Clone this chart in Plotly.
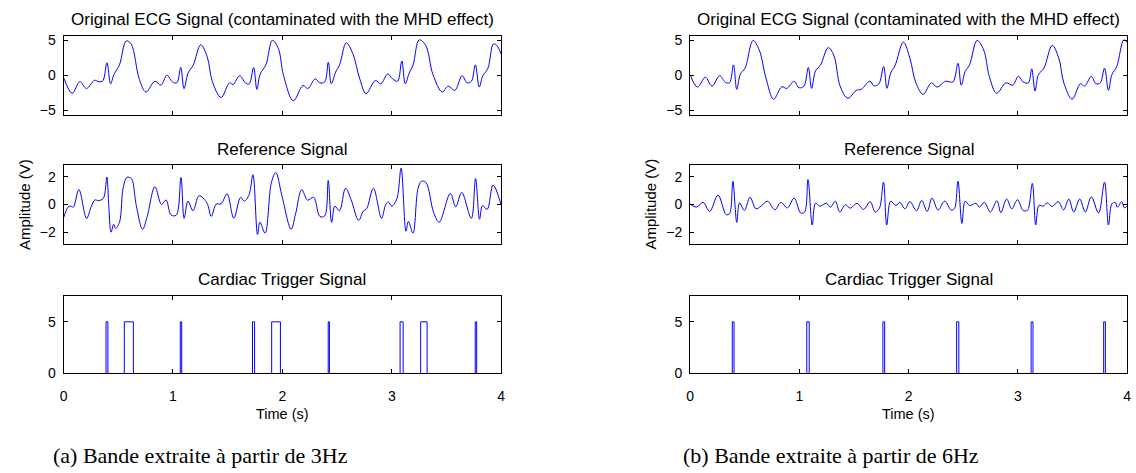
import plotly.graph_objects as go

# ---------------------------------------------------------------------------
# Signal samples (time in s, amplitude in V)
# ---------------------------------------------------------------------------

# (a) band extracted from 3 Hz
t_ecg_a = [0, 0.079, 0.148, 0.209, 0.284, 0.324, 0.36, 0.396, 0.43, 0.46, 0.511, 0.572, 0.617,
           0.693, 0.753, 0.835, 0.89, 0.944, 0.995, 1.035, 1.071, 1.101, 1.138, 1.186, 1.253,
           1.313, 1.359, 1.44, 1.516, 1.549, 1.61, 1.661, 1.697, 1.737, 1.767, 1.797, 1.849,
           1.909, 1.964, 2.009, 2.1, 2.188, 2.233, 2.3, 2.342, 2.387, 2.42, 2.447, 2.487, 2.523,
           2.584, 2.644, 2.705, 2.765, 2.85, 2.9, 2.962, 3.008, 3.053, 3.092, 3.123, 3.159,
           3.195, 3.25, 3.31, 3.377, 3.461, 3.516, 3.576, 3.643, 3.688, 3.728, 3.764, 3.8,
           3.83, 3.879, 3.93, 3.97, 4.0]
ecg_a = [-0.3, -2.56, -0.9, -1.86, -0.7, -0.93, -0.74, 1.8, -1.2, 0.1, 1.5, 4.9, 4.5,
         -0.6, -2.37, -0.84, -1.4, 0.0, -0.93, -1.07, 1.12, -1.9, 0.33, 1.49, 4.35,
         2.65, -0.84, -3.16, -1.07, -1.3, -0.05, -1.07, -1.2, 1.12, -2.0, 0.19, 1.49,
         5.0, 3.8, 0.1, -3.63, -1.45, -1.87, -0.5, -1.07, -0.93, 1.86, -1.2, 0.47, 1.49,
         4.65, 3.1, -0.37, -2.6, -0.74, -1.2, 0.19, -0.51, -0.84, 2.05, -1.2, 0.33,
         1.49, 5.05, 4.28, 0.09, -2.37, -1.53, -2.14, -0.05, -1.07, -0.84, 1.49, -1.67,
         -0.14, 1.02, 4.5, 4.05, 3.0]

t_ref_a = [0, 0.04, 0.06, 0.088, 0.14, 0.21, 0.254, 0.286, 0.321, 0.36, 0.375, 0.396, 0.414,
           0.434, 0.458, 0.475, 0.511, 0.544, 0.58, 0.62, 0.663, 0.722, 0.762, 0.835, 0.895,
           0.937, 0.982, 1.03, 1.073, 1.102, 1.137, 1.183, 1.239, 1.31, 1.35, 1.395, 1.44,
           1.494, 1.556, 1.618, 1.652, 1.696, 1.731, 1.773, 1.795, 1.842, 1.9, 1.94, 1.994,
           2.08, 2.12, 2.177, 2.23, 2.285, 2.343, 2.387, 2.419, 2.45, 2.48, 2.522, 2.577,
           2.627, 2.697, 2.74, 2.77, 2.832, 2.906, 2.945, 2.97, 3.0, 3.047, 3.085, 3.13,
           3.152, 3.194, 3.24, 3.271, 3.312, 3.383, 3.433, 3.535, 3.585, 3.639, 3.727,
           3.766, 3.802, 3.829, 3.872, 3.926, 4.0]
ref_a = [-0.96, -0.19, -0.1, -0.19, 1.08, -1.0, -0.12, 0.33, 0.28, 0.42, 0.7, 1.99, -0.2,
         -2.0, -1.43, -1.72, -1.29, 1.17, 1.97, 1.87, 0.0, -1.79, -0.94, 1.29, 0.0,
         0.33, -0.75, -0.77, 1.95, -1.0, 0.25, -0.45, 0.64, 0.12, -0.86, 0.03, 0.05,
         0.77, -0.99, 0.52, 0.25, 0.72, 2.16, -2.16, -1.27, -2.07, 1.6, 2.32, 0.7,
         -1.78, -0.7, 1.08, 0.32, 0.53, -0.86, -0.82, 1.74, -1.29, -0.12, -0.45, 1.18,
         0.38, -1.14, -0.47, -0.3, 1.18, -0.99, 0.0, 0.18, -0.12, 0.44, 2.63, -1.93,
         -1.22, -2.07, 1.17, 1.68, 1.6, -0.59, -1.27, 0.8, -0.16, 0.87, -1.0,
         1.88, -1.06, -0.07, -0.35, 1.41, -0.03]

trig_on_a = [0.388, 0.555, 1.067, 1.727, 1.902, 2.419, 3.076, 3.264, 3.763]
trig_off_a = [0.405, 0.638, 1.08, 1.746, 1.982, 2.43, 3.104, 3.323, 3.776]

# (b) band extracted from 6 Hz
t_ecg_b = [0, 0.067, 0.139, 0.2, 0.27, 0.321, 0.36, 0.397, 0.427, 0.46, 0.503, 0.576, 0.633,
           0.694, 0.764, 0.839, 0.885, 0.952, 0.997, 1.042, 1.082, 1.112, 1.148, 1.194, 1.264,
           1.315, 1.376, 1.445, 1.52, 1.567, 1.645, 1.685, 1.728, 1.772, 1.802, 1.836, 1.876,
           1.952, 2.012, 2.067, 2.133, 2.209, 2.26, 2.339, 2.406, 2.452, 2.482, 2.518, 2.558,
           2.627, 2.688, 2.739, 2.806, 2.891, 2.952, 3.006, 3.048, 3.097, 3.127, 3.158, 3.188,
           3.239, 3.315, 3.376, 3.421, 3.497, 3.573, 3.612, 3.673, 3.715, 3.755, 3.794, 3.83,
           3.861, 3.906, 3.97, 4.0]
ecg_b = [0.1, -1.67, -0.28, -1.53, -0.05, -0.98, -1.07, 1.49, -2.0, 0.19, 1.02, 4.97, 3.6,
         -0.37, -3.4, -1.63, -1.86, -0.84, -1.77, -1.53, 1.12, -1.86, 0.65, 1.49, 3.95,
         2.88, -1.67, -3.27, -2.15, -2.0, -0.84, -1.5, -1.22, 1.26, -1.85, 0.33, 1.4,
         4.74, 2.42, -1.07, -2.7, -1.07, -1.67, -0.84, -0.93, 1.72, -1.4, 0.56, 1.49,
         4.98, 3.6, -0.14, -2.56, -1.07, -1.4, -0.14, -0.93, -1.07, 0.93, -2.23, 0.09,
         1.02, 4.28, 2.42, -1.07, -3.4, -1.2, -1.53, -0.14, -1.2, -1.07, 1.02, -2.14,
         0.09, 1.26, 5.05, 4.72]

t_ref_b = [0, 0.058, 0.118, 0.179, 0.255, 0.33, 0.361, 0.391, 0.427, 0.452, 0.497, 0.548,
           0.603, 0.648, 0.709, 0.776, 0.83, 0.891, 0.952, 1.012, 1.048, 1.079, 1.118, 1.148,
           1.188, 1.248, 1.285, 1.33, 1.37, 1.421, 1.467, 1.527, 1.588, 1.648, 1.694, 1.733,
           1.77, 1.8, 1.836, 1.885, 1.921, 1.967, 2.012, 2.073, 2.12, 2.17, 2.215, 2.27,
           2.33, 2.39, 2.42, 2.452, 2.488, 2.518, 2.558, 2.618, 2.648, 2.694, 2.748, 2.809,
           2.845, 2.897, 2.945, 2.997, 3.048, 3.088, 3.133, 3.164, 3.194, 3.23, 3.27, 3.315,
           3.37, 3.42, 3.467, 3.512, 3.567, 3.618, 3.673, 3.739, 3.794, 3.83, 3.861, 3.891,
           3.912, 3.952, 3.976, 4.0]
ref_b = [0.05, -0.19, 0.16, -0.49, 0.68, -0.73, -0.66, 1.69, -1.29, 0.12, -0.42, 0.52,
         -0.31, -0.12, 0.24, -0.38, 0.16, -0.24, 0.47, -0.61, -0.54, 1.81, -1.48, 0.09,
         -0.12, 0.09, -0.19, 0.24, -0.54, -0.02, -0.26, 0.09, -0.35, 0.21, -0.54, -0.26,
         1.62, -1.48, 0.24, -0.07, 0.16, -0.31, 0.21, -0.45, 0.3, -0.5, 0.47, -0.4,
         0.25, -0.4, -0.3, 1.69, -1.36, 0.24, -0.07, 0.09, -0.19, 0.16, -0.54, 0.28,
         -0.59, 0.4, -0.31, 0.35, -0.42, -0.42, 1.53, -1.48, -0.05, -0.12, 0.12, -0.14,
         0.21, -0.38, 0.4, -0.54, 0.4, -0.54, 0.56, -0.61, 1.62, -1.48, 0.05, 0.16,
         -0.19, 0.21, -0.24, -0.12]

trig_on_b = [0.386, 1.068, 1.765, 2.44, 3.122, 3.786]
trig_off_b = [0.402, 1.09, 1.781, 2.46, 3.139, 3.802]

TRIG_HIGH = 5.0
T_END = 4.0

panel_titles = ["Original ECG Signal (contaminated with the MHD effect)",
                "Reference Signal",
                "Cardiac Trigger Signal"]
y_ranges = [[-5.7, 5.65], [-2.85, 2.85], [0, 7.5]]
y_ticks = [[-5, 0, 5], [-2, 0, 2], [0, 5]]
x_ticks = [0, 1, 2, 3, 4]
captions = ["(a) Bande extraite à partir de 3Hz", "(b) Bande extraite à partir de 6Hz"]

# ---------------------------------------------------------------------------
W, H = 1136, 473
SANS = "Liberation Sans, Arial, Helvetica, sans-serif"
SERIF = "Liberation Serif, DejaVu Serif, serif"
BLUE = "#0000ff"


def px_x(p):
    return p / W


def px_y(p):
    return 1 - p / H


def tick_text(v):
    return str(v).replace("-", "\u2212")


col_px = [(60, 500.7), (691, 1131)]
row_px = [(33.5, 115), (166, 246.7), (300, 379.3)]
title_px = [17, 150, 283]


def trigger_steps(on, off):
    xs, ys = [0.0], [0.0]
    for a, b in zip(on, off):
        xs += [a, b]
        ys += [TRIG_HIGH, 0.0]
    xs.append(T_END)
    ys.append(0.0)
    return xs, ys


columns = [
    [(t_ecg_a, ecg_a), (t_ref_a, ref_a), trigger_steps(trig_on_a, trig_off_a)],
    [(t_ecg_b, ecg_b), (t_ref_b, ref_b), trigger_steps(trig_on_b, trig_off_b)],
]

fig = go.Figure()
annotations = []
n = 0
for c, col in enumerate(columns):
    x0, x1 = col_px[c]
    for r, (xs, ys) in enumerate(col):
        n += 1
        sfx = "" if n == 1 else str(n)
        top, bot = row_px[r]
        is_trig = r == 2
        fig.add_trace(go.Scatter(
            x=xs, y=ys, mode="lines",
            line=dict(color=BLUE, width=1,
                      shape="hv" if is_trig else "spline",
                      smoothing=None if is_trig else 1.0),
            xaxis="x" + sfx, yaxis="y" + sfx, showlegend=False, hoverinfo="skip"))
        common = dict(showline=True, linecolor="black", linewidth=1, mirror="ticks",
                      ticks="inside", ticklen=4, tickwidth=1, tickcolor="black",
                      showgrid=False, zeroline=False,
                      tickfont=dict(family=SANS, size=14, color="black"))
        fig.layout["xaxis" + sfx] = dict(
            common, domain=[px_x(x0), px_x(x1)], range=[0, T_END],
            tickmode="array", tickvals=x_ticks, ticktext=[tick_text(v) for v in x_ticks],
            showticklabels=(r == 2), ticklabelstandoff=10, anchor="y" + sfx)
        fig.layout["yaxis" + sfx] = dict(
            common, domain=[px_y(bot), px_y(top)], range=y_ranges[r],
            tickmode="array", tickvals=y_ticks[r],
            ticktext=[tick_text(v) for v in y_ticks[r]], ticklabelstandoff=4,
            anchor="x" + sfx)
        annotations.append(dict(
            text=panel_titles[r], xref="paper", yref="paper",
            x=px_x((x0 + x1) / 2), y=px_y(title_px[r]), xanchor="center", yanchor="middle",
            showarrow=False, font=dict(family=SANS, size=17, color="black")))
    # axis labels
    annotations.append(dict(
        text="Time (s)", xref="paper", yref="paper",
        x=px_x((x0 + x1) / 2), y=px_y(421), xanchor="center", yanchor="middle",
        showarrow=False, font=dict(family=SANS, size=14.5, color="black")))
    annotations.append(dict(
        text="Amplitude (V)", xref="paper", yref="paper", textangle=-90,
        x=px_x(x0 - 40), y=px_y(206), xanchor="center", yanchor="middle",
        showarrow=False, font=dict(family=SANS, size=15, color="black")))

caption_px = [(198, 463), (833, 463)]
for cap, (cx, cy) in zip(captions, caption_px):
    annotations.append(dict(
        text=cap, xref="paper", yref="paper", x=px_x(cx), y=px_y(cy),
        xanchor="center", yanchor="middle", showarrow=False,
        font=dict(family=SERIF, size=22, color="black")))

fig.update_layout(
    width=W, height=H, margin=dict(l=0, r=0, t=0, b=0),
    paper_bgcolor="white", plot_bgcolor="white",
    annotations=annotations, showlegend=False)

fig.write_html("out.html")
